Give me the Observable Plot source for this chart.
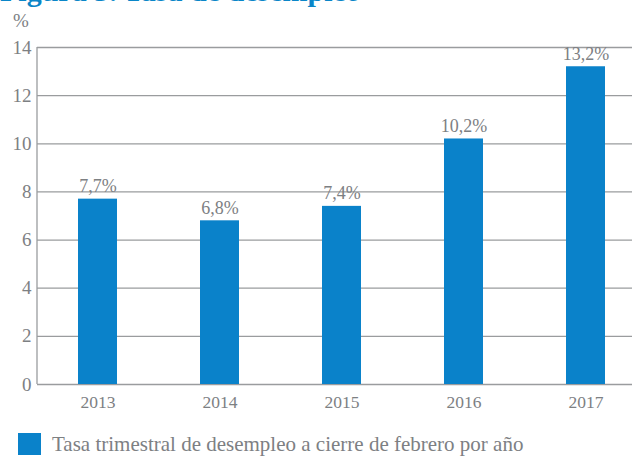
<!DOCTYPE html>
<html>
<head>
<meta charset="utf-8">
<script src="https://cdn.jsdelivr.net/npm/d3@7"></script>
<script src="https://cdn.jsdelivr.net/npm/@observablehq/plot@0.6"></script>
<style>
  html, body { margin: 0; padding: 0; background: #fff; overflow: hidden; }
  #wrap { position: relative; width: 632px; height: 457px; font-family: "Liberation Serif", serif; }
  #title { position: absolute; left: 0; top: -24px; font-size: 30px; line-height: 30px; font-weight: bold; color: #0a86c8; white-space: nowrap; }
  #unit { position: absolute; left: 13px; top: 11px; font-size: 19px; line-height: 19px; color: #7d8083; }
  #chart { position: absolute; left: 0; top: 0; }
  #legend { position: absolute; left: 18px; top: 433px; display: flex; align-items: center; white-space: nowrap; }
  #legend .sw { width: 23px; height: 22px; background: #0a82ca; margin-right: 11px; }
  #legend .lb { font-size: 21px; color: #7d8083; line-height: 22px; }
</style>
</head>
<body>
<div id="wrap">
  <div id="title">Figura 3. Tasa de desempleo</div>
  <div id="unit">%</div>
  <div id="chart"></div>
  <div id="legend"><div class="sw"></div><div class="lb">Tasa trimestral de desempleo a cierre de febrero por año</div></div>
</div>
<script>
const years = ["2013", "2014", "2015", "2016", "2017"];
const rates = [7.7, 6.8, 7.4, 10.2, 13.2];
const labels = ["7,7%", "6,8%", "7,4%", "10,2%", "13,2%"];
const yTicks = [0, 2, 4, 6, 8, 10, 12, 14];

const data = years.map((y, i) => ({year: y, rate: rates[i], label: labels[i]}));
const grey = "#7d8083";
const gridC = "#9a9c9e";

const chart = Plot.plot({
  width: 632,
  height: 420,
  marginLeft: 37,
  marginRight: 0,
  marginTop: 47,
  marginBottom: 36,
  style: {fontFamily: "Liberation Serif, serif", background: "transparent", overflow: "visible"},
  x: {domain: years, range: [-5, 688], padding: 0.68, label: null},
  y: {domain: [0, 14], label: null},
  marks: [
    Plot.ruleY(yTicks, {stroke: gridC, strokeWidth: 1.3}),
    Plot.barY(data, {x: "year", y: "rate", fill: "#0a82ca"}),
    Plot.axisY(yTicks, {tickSize: 0, tickPadding: 6, fontSize: 19, fill: grey, label: null}),
    Plot.axisX({tickSize: 0, tickPadding: 11, fontSize: 17.5, fill: grey, label: null}),
    Plot.text(data, {x: "year", y: "rate", text: "label", dy: -13, fontSize: 18, fill: grey})
  ]
});
// left axis line
const svg = d3.select(chart);
svg.append("line")
  .attr("x1", 37).attr("x2", 37).attr("y1", 47).attr("y2", 384)
  .attr("stroke", gridC).attr("stroke-width", 1.3);
document.getElementById("chart").appendChild(chart);
</script>
</body>
</html>
